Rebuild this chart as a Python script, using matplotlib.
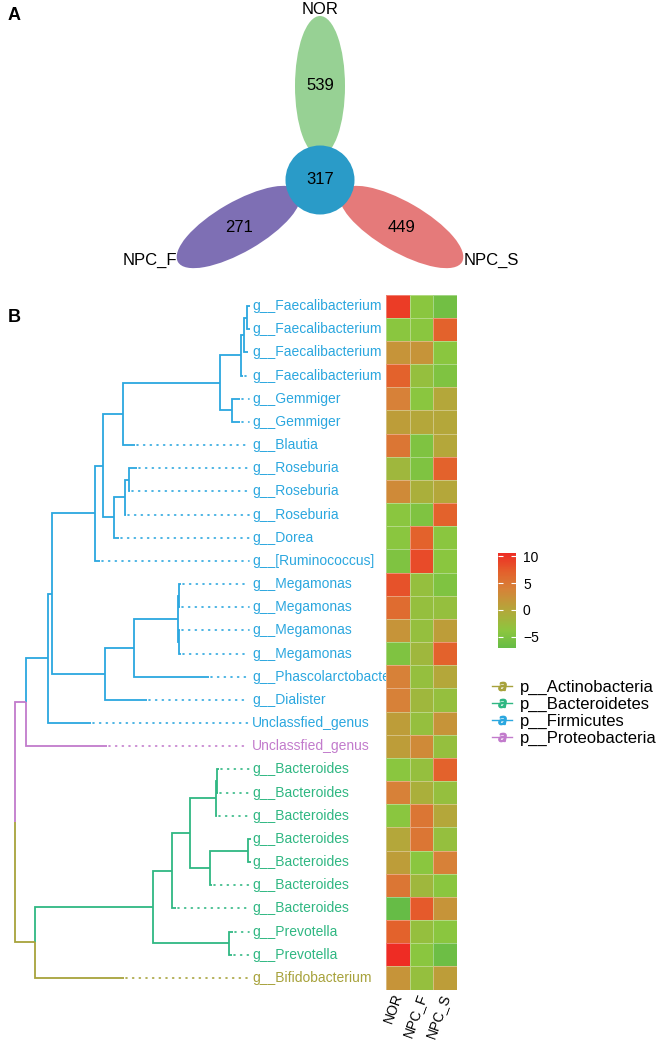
import matplotlib
matplotlib.use("Agg")
import matplotlib.pyplot as plt
from matplotlib.patches import Ellipse, Circle
from matplotlib.colors import LinearSegmentedColormap, Normalize
from matplotlib.lines import Line2D
import numpy as np

plt.rcParams["font.family"] = ["Liberation Sans", "DejaVu Sans"]

W, H = 661, 1040

# ---- panel A: venn (flower) ----
venn_sets = ["NOR", "NPC_F", "NPC_S"]
venn_unique = [539, 271, 449]
venn_core = 317

# ---- panel B: tree + heatmap ----
tip_labels = ["g__Faecalibacterium"] * 4 + ["g__Gemmiger"] * 2 + ["g__Blautia"] + \
    ["g__Roseburia"] * 3 + ["g__Dorea", "g__[Ruminococcus]"] + ["g__Megamonas"] * 4 + \
    ["g__Phascolarctobacterium", "g__Dialister", "Unclassfied_genus", "Unclassfied_genus"] + \
    ["g__Bacteroides"] * 7 + ["g__Prevotella"] * 2 + ["g__Bifidobacterium"]
tip_phylum = [2] * 19 + [3] + [1] * 9 + [0]
phyla = ["p__Actinobacteria", "p__Bacteroidetes", "p__Firmicutes", "p__Proteobacteria"]

heat_cols = ["NOR", "NPC_F", "NPC_S"]
nor = [9.5, -4, 2, 7, 4, 1, 5, -2, 3, -4, -4, -5, 8, 6, 2, -5, 4, 4, 1, 1,
       -4, 4, -4, 0, 1, 5, -7.1, 7, 10.6, 2]
npc_f = [-4, -4, 2, -3, -4, 0, -5, -5, -1, -5, 7, 8.5, -3, -3, -3, -2, -3, -2, -3, 3,
         -3, -1, 5, 5, -4, -2, 7.5, -3, -4, -3]
npc_s = [-6, 7, -4, -5, 0, 0, 0, 7, 0, 7, -4, -4, -5, -3, 1, 7, 0, -3, 2, -3,
         7, -3, 0, -3, 4, -4, 2, -4, -6.5, 1]

# branch depths from root (tips, then internal nodes as (depth, children))
tip_depth = [235, 235, 233, 228, 225, 225, 120, 122, 115, 111, 104, 85,
             166, 165, 165, 166, 194, 132, 76, 92,
             204, 203, 202, 236, 236, 197, 161, 218, 217, 109]
tree = (0, [
    (11, [
        (33, [
            (37, [
                (80, [
                    (88, [
                        (108, [
                            (205, [(226, [(229, [(232, [0, 1]), 2]), 3]), (217, [4, 5])]),
                            6]),
                        (99, [(110, [(114, [7, 8]), 9]), 10]),
                    ]),
                    11]),
                (90, [(119, [(163, [(164, [12, 13]), (164, [14, 15])]), 16]), 17]),
            ]),
            18]),
        19]),
    (20, [
        (138, [
            (157, [
                (175, [(201, [(202, [20, 21]), 22]), (195, [(233, [23, 24]), 25])]),
                26]),
            (214, [27, 28])]),
        29]),
])
align_depth = 234

phylum_colors = ["#a7a23b", "#2fb782", "#2ba7df", "#c27bcc"]
venn_colors = ["#97d194", "#7e6fb4", "#e57a7a"]
core_color = "#2a9bc8"
heat_cmap = LinearSegmentedColormap.from_list(
    "gr", [(0.0, "#66bc46"), (0.18, "#8cc63f"), (0.40, "#b4a73a"),
           (0.62, "#d68238"), (0.80, "#e3612c"), (1.0, "#ee2c24")])


def px_axes(fig, x0, y0, x1, y1):
    return fig.add_axes([x0 / W, 1 - y1 / H, (x1 - x0) / W, (y1 - y0) / H])


fig = plt.figure(figsize=(W / 100, H / 100), dpi=100)

# ---------------- A ----------------
axA = px_axes(fig, 0, 0, W, 290)
axA.set_xlim(0, W)
axA.set_ylim(290, 0)
axA.axis("off")
cx, cy, dist = 320, 180, 94
for k, (name, n, col) in enumerate(zip(venn_sets, venn_unique, venn_colors)):
    ang = np.deg2rad(90 + 120 * k)          # NOR up, NPC_F lower-left, NPC_S lower-right
    ex, ey = cx + dist * np.cos(ang), cy - dist * np.sin(ang)
    axA.add_patch(Ellipse((ex, ey), 50, 140, angle=-(120 * k) if k else 0,
                          facecolor=col, edgecolor="none", zorder=1))
    axA.text(ex, ey, str(n), ha="center", va="center", fontsize=12, zorder=3)
axA.add_patch(Circle((cx, cy), 34.5, facecolor=core_color, edgecolor="none", zorder=2))
axA.text(cx, cy, str(venn_core), ha="center", va="center", fontsize=12, zorder=3)
axA.text(cx, 10, venn_sets[0], ha="center", va="center", fontsize=12)
axA.text(150, 260, venn_sets[1], ha="center", va="center", fontsize=12)
axA.text(491, 260, venn_sets[2], ha="center", va="center", fontsize=12)
fig.text(8 / W, 1 - 16 / H, "A", fontsize=13, fontweight="bold", va="center")
fig.text(8 / W, 1 - 318 / H, "B", fontsize=13, fontweight="bold", va="center")

# ---------------- B: tree ----------------
top, bot = 294.5, 989.5
axT = px_axes(fig, 0, top, 386, bot)
axT.set_xlim(-15, 371)
axT.set_ylim(len(tip_labels) - 0.5, -0.5)
axT.axis("off")


def tips_of(node):
    if isinstance(node, int):
        return [node]
    return [t for c in node[1] for t in tips_of(c)]


def node_group(node):
    if isinstance(node, int):
        return tip_phylum[node]
    g = {tip_phylum[t] for t in tips_of(node)}
    if len(g) == 1:
        return g.pop()
    direct = [c for c in node[1] if isinstance(c, int)]
    return tip_phylum[direct[0]] if direct else None


def draw(node):
    """画一个节点及其子树, 返回 (深度, y)。每条边按子节点的门着色。"""
    if isinstance(node, int):
        return tip_depth[node], float(node)
    d, kids = node
    ys = [(c, *draw(c)) for c in kids]
    y = np.mean([k[2] for k in ys])
    for c, cd, cy_ in ys:
        axT.plot([d, d, cd], [y, cy_, cy_], color=phylum_colors[node_group(c)], lw=1.3,
                 solid_capstyle="butt", solid_joinstyle="miter")
    return d, y


draw(tree)
for i, lab in enumerate(tip_labels):
    col = phylum_colors[tip_phylum[i]]
    if tip_depth[i] < align_depth - 2:
        axT.plot([tip_depth[i] + 2, align_depth], [i, i], color=col, lw=1.2,
                 linestyle=(0, (0.6, 3.4)), dash_capstyle="round")
    axT.text(align_depth + 3, i, lab, color=col, fontsize=10, va="center",
             ha="left", clip_on=False)

# ---------------- B: heatmap ----------------
axH = px_axes(fig, 386, top, 457, bot)
vals = np.array([nor, npc_f, npc_s]).T
norm = Normalize(vmin=vals.min(), vmax=vals.max())
mesh = axH.pcolormesh(np.arange(4), np.arange(len(tip_labels) + 1), vals, cmap=heat_cmap,
                      norm=norm, edgecolors=(1, 1, 1, 0.35), linewidth=0.6)
axH.set_xlim(0, 3)
axH.set_ylim(len(tip_labels), 0)
axH.axis("off")
for j, c in enumerate(heat_cols):
    axH.text(j + 0.55, len(tip_labels) + 0.2, c, rotation=70, ha="right", va="center",
             rotation_mode="anchor", fontsize=10)

# ---------------- colorbar ----------------
cax = px_axes(fig, 498, 553, 516, 648)
cb = fig.colorbar(mesh, cax=cax, ticks=[-5, 0, 5, 10])
cb.outline.set_visible(False)
cax.set_yticklabels(["\u22125", "0", "5", "10"])
cax.yaxis.set_ticks_position("both")
cax.tick_params(length=3.5, width=0.8, color="white", direction="in", labelsize=10, pad=5)

# ---------------- legend ----------------
handles = [Line2D([], [], color=c, lw=1.0, marker="$a$", markersize=6)
           for c in phylum_colors]
fig.legend(handles, phyla, loc="upper left", bbox_to_anchor=(492 / W, 1 - 680 / H),
           frameon=False, fontsize=12, handlelength=1.2, handletextpad=0.5,
           labelspacing=0.1, borderaxespad=0, borderpad=0)

fig.savefig("out.png", dpi=100)
